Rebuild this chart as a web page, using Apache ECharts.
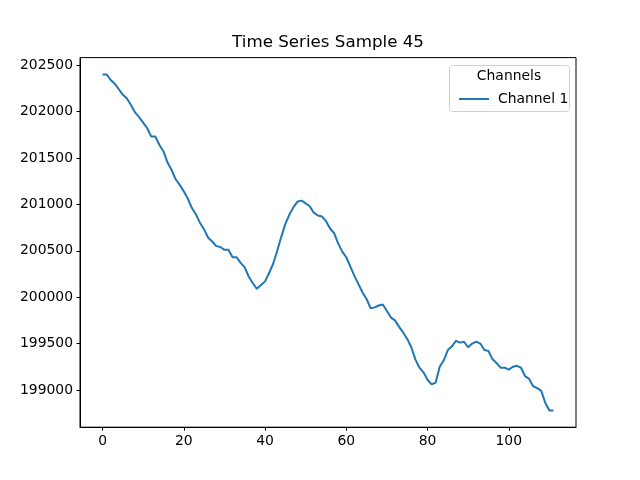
<!DOCTYPE html>
<html>
<head>
<meta charset="utf-8">
<script src="https://cdn.jsdelivr.net/npm/echarts@6/dist/echarts.min.js"></script>
<style>
  html, body { margin: 0; padding: 0; background: #fff; }
  #chart { width: 640px; height: 480px; }
</style>
</head>
<body>
<div id="chart"></div>
<script>
// values
var channel1 = [
  202400, 202400, 202340, 202300, 202240, 202180, 202140, 202070, 201990, 201940,
  201880, 201820, 201730, 201730, 201640, 201570, 201450, 201370, 201270, 201210,
  201140, 201060, 200960, 200890, 200800, 200730, 200640, 200600, 200550, 200540,
  200510, 200510, 200430, 200430, 200370, 200320, 200220, 200150, 200090, 200130,
  200170, 200260, 200360, 200500, 200650, 200790, 200890, 200970, 201030, 201040,
  201010, 200980, 200910, 200880, 200870, 200820, 200740, 200690, 200580, 200490,
  200430, 200330, 200230, 200140, 200050, 199980, 199880, 199890, 199910, 199920,
  199850, 199780, 199750, 199680, 199620, 199550, 199460, 199330, 199240, 199190,
  199110, 199060, 199080, 199250, 199320, 199430, 199470, 199530, 199510, 199520,
  199460, 199500, 199520, 199500, 199430, 199420, 199330, 199290, 199240, 199240,
  199220, 199250, 199260, 199240, 199150, 199120, 199040, 199020, 198990, 198860,
  198780, 198780
];
var xTicks = [0, 20, 40, 60, 80, 100];
var yTicks = [199000, 199500, 200000, 200500, 201000, 201500, 202000, 202500];

var seriesData = channel1.map(function (v, i) { return [i, v]; });

// matplotlib style 5% margins
var n = channel1.length - 1;
var yMin = Math.min.apply(null, channel1);
var yMax = Math.max.apply(null, channel1);
var yPad = (yMax - yMin) * 0.05;

var font = 'DejaVu Sans';
var chart = echarts.init(document.getElementById('chart'));
chart.setOption({
  animation: false,
  textStyle: { fontFamily: font },
  grid: {
    left: 80, right: 64, top: 57.6, bottom: 52.8,
    show: true, borderColor: '#000', borderWidth: 1
  },
  xAxis: {
    type: 'value',
    min: -n * 0.05,
    max: n * 1.05,
    splitLine: { show: false },
    axisLine: { show: true, onZero: false, lineStyle: { color: '#000', width: 1 } },
    axisTick: { show: true, customValues: xTicks, length: 3.5, lineStyle: { color: '#000' } },
    axisLabel: {
      customValues: xTicks, margin: 7, color: '#000', fontSize: 13.9, fontFamily: font,
      formatter: function (v) { return String(v); }
    }
  },
  yAxis: {
    type: 'value',
    min: yMin - yPad,
    max: yMax + yPad,
    splitLine: { show: false },
    axisLine: { show: true, onZero: false, lineStyle: { color: '#000', width: 1 } },
    axisTick: { show: true, customValues: yTicks, length: 3.5, lineStyle: { color: '#000' } },
    axisLabel: {
      customValues: yTicks, margin: 7, color: '#000', fontSize: 13.9, fontFamily: font,
      formatter: function (v) { return String(v); }
    }
  },
  legend: {
    left: 453, top: 87,
    itemWidth: 30, itemHeight: 14,
    data: ['Channel 1'],
    itemStyle: { opacity: 0 },
    lineStyle: { width: 2 },
    textStyle: { fontFamily: font, fontSize: 13.9, color: '#000', padding: [0, 0, 0, 4] }
  },
  graphic: [
    {
      type: 'text',
      x: 328, y: 43,
      style: {
        text: 'Time Series Sample 45', font: '16.7px "DejaVu Sans"', fill: '#000',
        align: 'center', verticalAlign: 'middle'
      }
    },
    {
      type: 'rect',
      shape: { x: 449.5, y: 65.5, width: 120, height: 46, r: 3 },
      style: { fill: 'rgba(255,255,255,0.8)', stroke: '#d0d0d0', lineWidth: 1 },
      z: 0
    },
    {
      type: 'text',
      x: 509, y: 76,
      style: {
        text: 'Channels', font: '13.9px "DejaVu Sans"', fill: '#000',
        align: 'center', verticalAlign: 'middle'
      },
      z: 1
    }
  ],
  series: [
    {
      name: 'Channel 1',
      type: 'line',
      data: seriesData,
      showSymbol: false,
      symbol: 'none',
      lineStyle: { color: '#1f77b4', width: 2 },
      itemStyle: { color: '#1f77b4' }
    }
  ]
});
</script>
</body>
</html>
